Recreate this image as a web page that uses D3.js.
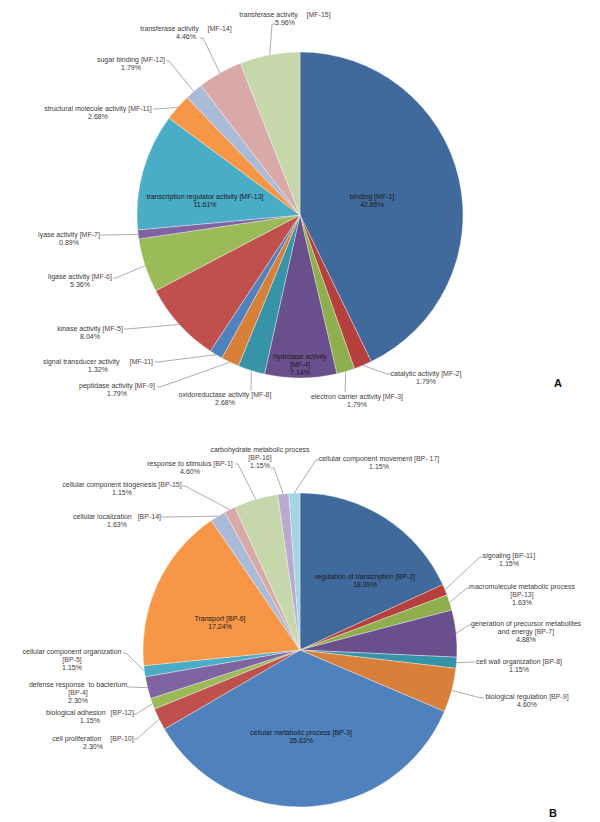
<!DOCTYPE html>
<html><head><meta charset="utf-8">
<script src="https://cdn.jsdelivr.net/npm/d3@7/dist/d3.min.js"></script>
<style>
html,body{margin:0;padding:0;background:#fff;}
svg text{font-family:"Liberation Sans",Arial,sans-serif;white-space:pre;}
</style></head>
<body>
<svg id="c" width="600" height="822"></svg>
<script>
// ---- Data: Molecular function (A) ----
const mfNames = ["binding","catalytic activity","electron carrier activity","hydrolase activity","oxidoreductase activity","peptidase activity","signal transducer activity","kinase activity","ligase activity","lyase activity","transcription regulator activity","structural molecule activity","sugar binding","transferase activity","transferase activity"];
const mfCodes = ["[MF-1]","[MF-2]","[MF-3]","[MF-4]","[MF-8]","[MF-9]","[MF-11]","[MF-5]","[MF-6]","[MF-7]","[MF-13]","[MF-11]","[MF-12]","[MF-14]","[MF-15]"];
const mfValues = [42.86,1.79,1.79,7.14,2.68,1.79,1.32,8.04,5.36,0.89,11.61,2.68,1.79,4.46,5.96];

// ---- Data: Biological process (B) ----
const bpNames = ["regulation of transcription","signaling","macromolecule metabolic process","generation of precursor metabolites\nand energy","cell wall organization","biological regulation","cellular metabolic process","cell proliferation","biological adhesion","defense response  to bacterium","cellular component organization","Transport","cellular localization","cellular component biogenesis","response to stimulus","carbohydrate metabolic process","cellular component movement"];
const bpCodes = ["[BP-2]","[BP-11]","[BP-13]","[BP-7]","[BP-8]","[BP-9]","[BP-3]","[BP-10]","[BP-12]","[BP-4]","[BP-5]","[BP-6]","[BP-14]","[BP-15]","[BP-1]","[BP-16]","[BP- 17]"];
const bpValues = [18.39,1.15,1.63,4.88,1.15,4.60,35.63,2.30,1.15,2.30,1.15,17.24,1.63,1.15,4.60,1.15,1.15];

const panelLetters = ["A","B"];

// ---- Styling / layout (not data) ----
const palette = ["#3F6A9B","#B6403D","#8FAE4D","#6A4F8D","#3794A8","#D8803A",
                 "#4F81BD","#C0504D","#9BBB59","#8064A2","#4BACC6","#F79646",
                 "#AABAD7","#D9A9A8","#C6D7AB","#B9ABCE","#A5D5E2"];

// label layout: x,y = first baseline centre; mode: 0 name+code one line, 1 code on own line;
// gap = extra px between name & code; inside = drawn in slice; lx,ly,t = leader end & tick
const mfLayout = [
 {x:372,y:199,inside:1},
 {x:426,y:376,lx:387,ly:374,t:4},
 {x:357,y:399,lx:345,ly:392,t:0},
 {x:300,y:359,mode:1,inside:1},
 {x:225,y:397,lx:251,ly:391,t:0},
 {x:117,y:388,lx:160,ly:387,t:-3},
 {x:98,y:364,gap:8,lx:158,ly:362,t:-3},
 {x:90,y:331,lx:127,ly:329,t:-3},
 {x:80,y:279,lx:116,ly:278,t:-3},
 {x:69,y:237,lx:103,ly:235,t:-3},
 {x:205,y:199,inside:1},
 {x:98,y:111,lx:156,ly:109,t:-3},
 {x:131,y:62,lx:169,ly:61,t:-3},
 {x:186,y:31,gap:7,lx:203,ly:38,t:-3},
 {x:285,y:17,gap:7,lx:272,ly:24,t:3}
];
const bpLayout = [
 {x:365,y:579,inside:1},
 {x:509,y:558,lx:480,ly:557,t:3},
 {x:522,y:589,mode:1,lx:467,ly:588,t:3},
 {x:526,y:626,lx:469,ly:625,t:3},
 {x:519,y:664,lx:472,ly:662,t:3},
 {x:527,y:699,lx:481,ly:698,t:3},
 {x:301,y:735,inside:1},
 {x:93,y:741,gap:7,lx:137,ly:739,t:-3},
 {x:90,y:715,gap:3,lx:136,ly:714,t:-3},
 {x:78,y:687,mode:1,lx:130,ly:687,t:-3},
 {x:72,y:654,mode:1,lx:126,ly:653,t:-3},
 {x:220,y:621,inside:1},
 {x:117,y:519,gap:4,lx:164,ly:517,t:-3},
 {x:122,y:487,lx:185,ly:486,t:-3},
 {x:190,y:466,lx:238,ly:464,t:-3},
 {x:260,y:452,mode:1,lx:274,ly:468,t:-3},
 {x:379,y:461,lx:316,ly:460,t:3}
];

const svg = d3.select("#c");
const LH = 7.8;

function drawPie(names, codes, values, layout, cx, cy, r, letter, lpos){
  const g = svg.append("g").attr("transform",`translate(${cx},${cy})`);
  const pie = d3.pie().sort(null).value(d=>d);
  const arcs = pie(values);
  const arc = d3.arc().innerRadius(0).outerRadius(r);
  g.selectAll("path.s").data(arcs).join("path").attr("class","s")
    .attr("d",arc).attr("fill",(d,i)=>palette[i])
    .attr("stroke","#ffffff").attr("stroke-width",0.35);

  // leader lines
  arcs.forEach((a,i)=>{
    const L = layout[i];
    if(L.inside) return;
    const m = (a.startAngle+a.endAngle)/2;
    const px = Math.sin(m)*r, py = -Math.cos(m)*r;
    const pts = [[px,py],[L.lx-cx,L.ly-cy],[L.lx-cx+L.t,L.ly-cy]];
    g.append("path").attr("d",d3.line()(pts))
      .attr("fill","none").attr("stroke","#8a8a8a").attr("stroke-width",0.7);
  });

  // labels
  arcs.forEach((a,i)=>{
    const L = layout[i];
    const col = L.inside ? "#1a1a1a" : "#3a3a3a";
    const codeCol = L.inside ? "#1a1a1a" : "#584545";
    const t = svg.append("text").attr("text-anchor","middle")
      .attr("font-size",7).attr("fill",col);
    const nameLines = names[i].split("\n");
    let line = 0;
    nameLines.forEach((nl,k)=>{
      const last = k===nameLines.length-1;
      t.append("tspan").attr("x",L.x).attr("y",L.y+line*LH).text(nl);
      if(last && !L.mode){
        t.append("tspan").attr("dx",(L.gap||0)+1.9).attr("fill",codeCol).text(codes[i]);
      } else if(last && L.mode){
        line++;
        t.append("tspan").attr("x",L.x).attr("y",L.y+line*LH).attr("fill",codeCol).text(codes[i]);
      }
      line++;
    });
    t.append("tspan").attr("x",L.x).attr("y",L.y+line*LH).text(values[i].toFixed(2)+"%");
  });

  svg.append("text").attr("x",lpos[0]).attr("y",lpos[1])
    .attr("font-size",11).attr("font-weight","bold").attr("fill","#111")
    .text(letter);
}

drawPie(mfNames, mfCodes, mfValues, mfLayout, 300, 215, 163, panelLetters[0], [554,387]);
drawPie(bpNames, bpCodes, bpValues, bpLayout, 300, 650, 157, panelLetters[1], [549,817]);
</script>
</body></html>
